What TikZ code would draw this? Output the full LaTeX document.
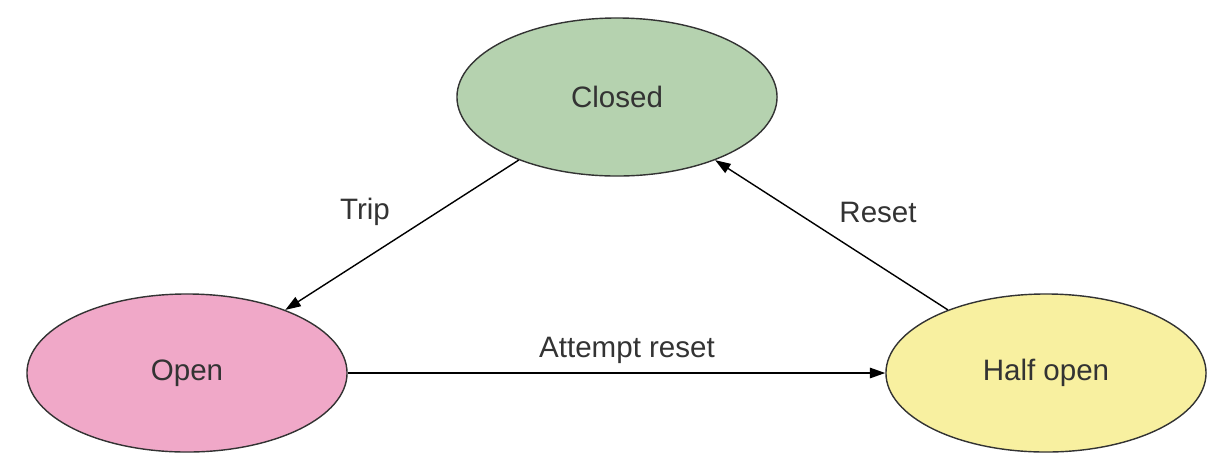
\documentclass[tikz,border=0pt]{standalone}
\usepackage{fontspec}
\setmainfont{Liberation Sans}
\usepackage{tikz}
\usetikzlibrary{
	shapes.geometric,
	arrows.meta}

\definecolor{closedgreen}{HTML}{B5D2AF}
\definecolor{openpink}{HTML}{F0A8C8}
\definecolor{halfyellow}{HTML}{F8F0A0}
\definecolor{textgray}{HTML}{333333}

\begin{document}
\begin{tikzpicture}[x=0.025cm, y=-0.025cm,
    state/.style={ellipse, draw=black!80, line width=1pt, minimum width=8cm,
      minimum height=3.95cm, text=textgray, font=\fontsize{21}{25}\selectfont},
    lbl/.style={text=textgray, font=\fontsize{21}{25}\selectfont},
    >={Triangle[length=11pt, width=7.5pt]}]
    \useasboundingbox (0,0) rectangle (1224,470);
    \node[state, fill=closedgreen] (CL) at (617,97) {Closed};
    \node[state, fill=openpink] (OP) at (187,373) {Open};
    \node[state, fill=halfyellow] (HO) at (1046,373) {Half open};
    \node[lbl] (TR) at (365,212) {Trip};
    \node[lbl] (RS) at (878,212) {Reset};
    \node[lbl] (AR) at (627,350) {Attempt reset};

    \draw [->, line width=1pt] (CL) to (OP);
    \draw [->, line width=1pt] (OP) to (HO);
    \draw [->, line width=1pt] (HO) to (CL);
  \end{tikzpicture}
\end{document}
